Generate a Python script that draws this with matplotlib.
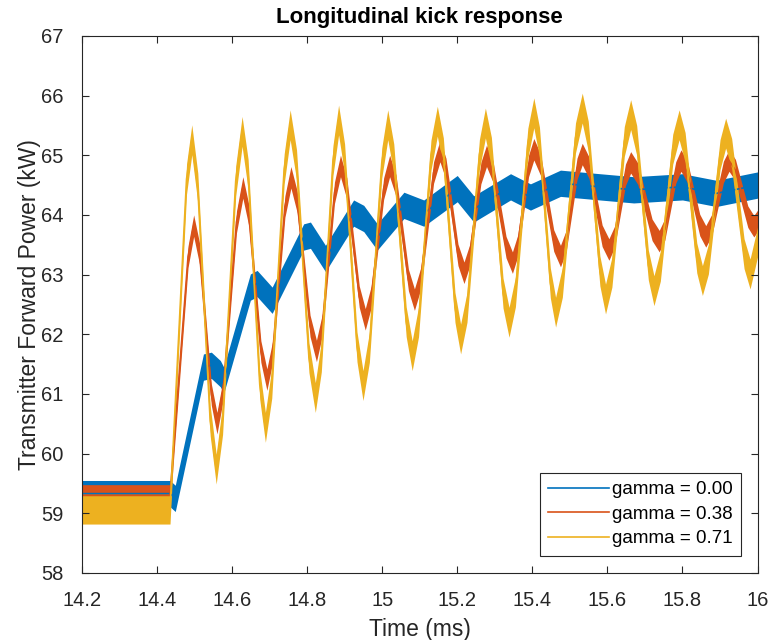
import numpy as np
import matplotlib
matplotlib.use("Agg")
import matplotlib.pyplot as plt

plt.rcParams['font.family'] = ['Liberation Sans', 'DejaVu Sans']

# gamma = 0.00 (blue) - band centre
t_blue = [14.20, 14.435, 14.449, 14.524, 14.545, 14.569, 14.578, 14.649, 14.667, 14.707,
          14.791, 14.809, 14.849, 14.924, 14.951, 14.987, 15.058, 15.111, 15.20,
          15.244, 15.342, 15.395, 15.475, 15.58, 15.67, 15.80, 15.89, 16.00]
v_blue = [59.33, 59.33, 59.25, 61.45, 61.48, 61.34, 61.23, 62.79, 62.85, 62.57,
          63.63, 63.66, 63.27, 64.03, 63.94, 63.63, 64.16, 64.03, 64.44,
          64.10, 64.47, 64.30, 64.53, 64.47, 64.42, 64.47, 64.36, 64.50]

# gamma = 0.38 (orange): extrema and the shoulders either side of them
t_orange = [14.20, 14.435, 14.483, 14.498, 14.514, 14.545, 14.560, 14.577, 14.612, 14.629,
            14.645, 14.677, 14.693, 14.709, 14.741, 14.757, 14.774, 14.808, 14.825,
            14.841, 14.873, 14.889, 14.906, 14.939, 14.955, 14.971, 15.004, 15.020,
            15.037, 15.070, 15.086, 15.103, 15.137, 15.154, 15.170, 15.202, 15.218,
            15.233, 15.263, 15.278, 15.295, 15.330, 15.347, 15.361, 15.390, 15.404,
            15.422, 15.457, 15.475, 15.490, 15.519, 15.533, 15.551, 15.586, 15.604,
            15.619, 15.648, 15.662, 15.681, 15.719, 15.738, 15.753, 15.782, 15.796,
            15.813, 15.846, 15.862, 15.878, 15.909, 15.924, 15.941, 15.974, 15.990, 16.00]
v_orange = [59.30, 59.30, 63.30, 63.82, 63.34, 60.99, 60.51, 61.09, 63.88, 64.46,
            63.99, 61.71, 61.24, 61.73, 64.14, 64.63, 64.21, 62.14, 61.72,
            62.17, 64.37, 64.82, 64.44, 62.63, 62.25, 62.63, 64.44, 64.82,
            64.49, 62.91, 62.58, 62.94, 64.71, 65.07, 64.77, 63.33, 63.03,
            63.32, 64.70, 64.99, 64.73, 63.46, 63.20, 63.48, 64.82, 65.10,
            64.84, 63.57, 63.31, 63.56, 64.77, 65.02, 64.79, 63.65, 63.42,
            63.63, 64.67, 64.88, 64.69, 63.75, 63.56, 63.76, 64.71, 64.91,
            64.72, 63.83, 63.64, 63.83, 64.72, 64.91, 64.75, 63.97, 63.81, 63.90]

# gamma = 0.71 (yellow): extrema and the shoulders either side of them
t_yellow = [14.20, 14.435, 14.479, 14.493, 14.509, 14.542, 14.558, 14.575, 14.610, 14.627,
            14.643, 14.674, 14.689, 14.706, 14.739, 14.755, 14.772, 14.805, 14.822,
            14.838, 14.869, 14.884, 14.900, 14.933, 14.949, 14.966, 14.999, 15.015,
            15.031, 15.064, 15.080, 15.097, 15.130, 15.147, 15.163, 15.194, 15.209,
            15.226, 15.259, 15.275, 15.291, 15.322, 15.338, 15.355, 15.388, 15.404,
            15.419, 15.448, 15.462, 15.480, 15.515, 15.533, 15.549, 15.580, 15.595,
            15.612, 15.645, 15.662, 15.678, 15.709, 15.724, 15.741, 15.774, 15.791,
            15.807, 15.838, 15.853, 15.869, 15.900, 15.915, 15.931, 15.964, 15.980, 16.00]
v_yellow = [59.07, 59.07, 64.60, 65.26, 64.45, 60.55, 59.74, 60.57, 64.57, 65.40,
            64.68, 61.16, 60.44, 61.18, 64.77, 65.51, 64.84, 61.61, 60.94,
            61.62, 64.91, 65.59, 64.94, 61.79, 61.14, 61.78, 64.87, 65.51,
            64.94, 62.21, 61.64, 62.21, 65.00, 65.57, 65.04, 62.45, 61.92,
            62.45, 65.01, 65.54, 65.05, 62.69, 62.20, 62.71, 65.20, 65.71,
            65.22, 62.86, 62.37, 62.87, 65.29, 65.79, 65.32, 63.06, 62.59,
            63.04, 65.23, 65.68, 65.25, 63.16, 62.73, 63.14, 65.10, 65.51,
            65.13, 63.28, 62.90, 63.26, 65.01, 65.37, 65.03, 63.35, 63.01, 63.55]

# half width of the noise band of each trace (kW)
noise = [0.22, 0.18, 0.25]
labels = ['gamma = 0.00', 'gamma = 0.38', 'gamma = 0.71']
colors = ['#0072BD', '#D95319', '#EDB120']

fig = plt.figure(figsize=(7.79, 6.4), dpi=100)
ax = fig.add_axes([0.105, 0.1047, 0.8675, 0.8393])

series = [(t_blue, v_blue), (t_orange, v_orange), (t_yellow, v_yellow)]
for (t, v), n, c, lab in zip(series, noise, colors, labels):
    t = np.array(t)
    v = np.array(v)
    ax.fill_between(t, v - n, v + n, color=c, linewidth=0)
    ax.plot(t, v, color=c, linewidth=1.2, label=lab)

ax.set_xlim(14.2, 16)
ax.set_ylim(58, 67)
ax.set_xticks([14.2, 14.4, 14.6, 14.8, 15, 15.2, 15.4, 15.6, 15.8, 16])
ax.set_xticklabels(['14.2', '14.4', '14.6', '14.8', '15', '15.2', '15.4', '15.6', '15.8', '16'])
ax.set_yticks(range(58, 68))

dark = '#262626'
for s in ax.spines.values():
    s.set_color(dark)
    s.set_linewidth(0.8)
ax.tick_params(direction='in', length=5, width=0.8, colors=dark, labelsize=14.5,
               top=True, right=True, pad=13)

ax.set_xlabel('Time (ms)', fontsize=16.5, color=dark, labelpad=6)
ax.set_ylabel('Transmitter Forward Power (kW)', fontsize=16.5, color=dark, labelpad=0)
ax.set_title('Longitudinal kick response', fontsize=16, fontweight='bold', pad=9)

leg = ax.legend(loc='lower right', bbox_to_anchor=(0.976, 0.032), borderaxespad=0,
                fontsize=13.5, fancybox=False, framealpha=1, edgecolor=dark,
                handlelength=3.25, handletextpad=0.15, borderpad=0.45, labelspacing=0.4)
leg.get_frame().set_linewidth(0.8)

fig.savefig('out.png', dpi=100)
